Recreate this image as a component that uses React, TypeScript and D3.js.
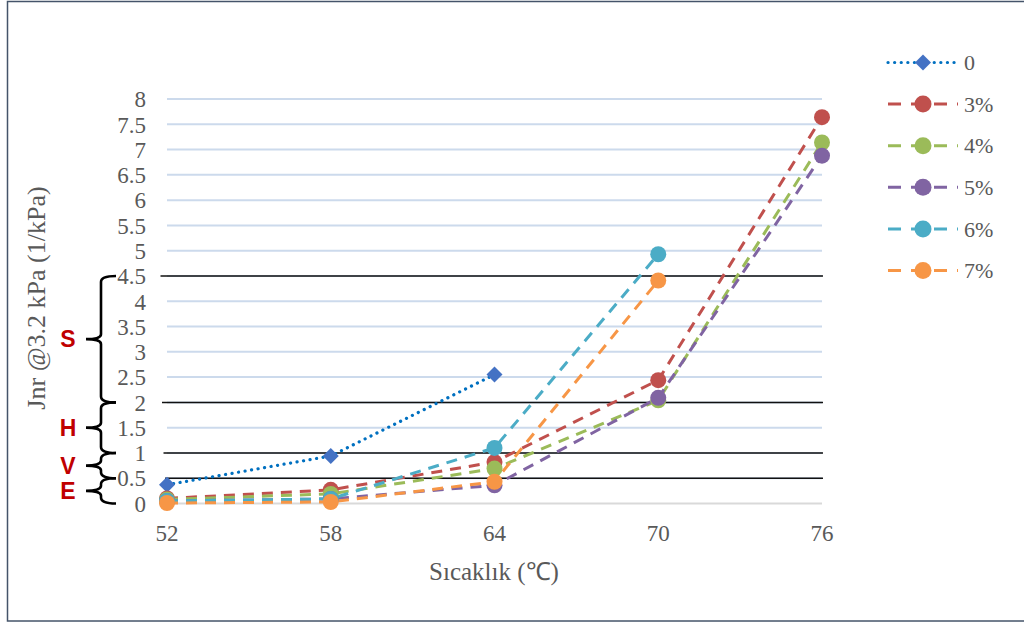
import React from "react";
import * as d3 from "d3";

const temps = [52, 58, 64, 70, 76];
const seriesNames = ["0", "3%", "4%", "5%", "6%", "7%"];
const series0 = [0.37, 0.94, 2.55];
const series3 = [0.1, 0.27, 0.82, 2.44, 7.64];
const series4 = [0.08, 0.19, 0.69, 2.04, 7.14];
const series5 = [0.05, 0.09, 0.36, 2.09, 6.88];
const series6 = [0.05, 0.09, 1.1, 4.93];
const series7 = [0.01, 0.03, 0.43, 4.41];
const allSeries = [series0, series3, series4, series5, series6, series7];
const colors = ["#4472C4", "#C0504D", "#9BBB59", "#8064A2", "#4BACC6", "#F79646"];
const yTicks = [0, 0.5, 1, 1.5, 2, 2.5, 3, 3.5, 4, 4.5, 5, 5.5, 6, 6.5, 7, 7.5, 8];
const thresholds = [0.5, 1, 2, 4.5];
const bandLabels = ["E", "V", "H", "S"];
const bandFrom = [0, 0.5, 1, 2];
const bandTo = [0.5, 1, 2, 4.5];

const W = 1024;
const H = 624;
const PLOT = { left: 167, right: 822, top: 99, bottom: 503.5 };

const serif = "'Liberation Serif', 'Times New Roman', serif";

function App() {
  const x = d3.scaleLinear().domain([52, 76]).range([PLOT.left, PLOT.right]);
  const y = d3.scaleLinear().domain([0, 8]).range([PLOT.bottom, PLOT.top]);

  const line = d3
    .line<number>()
    .x((_, i) => x(temps[i]))
    .y((d) => y(d));

  // curly brace spanning two y values, tip pointing left
  const brace = (from: number, to: number) => {
    const yt = y(to);
    const yb = y(from);
    const ym = (yt + yb) / 2;
    const xe = 116;
    const xv = 101;
    const xt = 86;
    return `M${xe},${yt} Q${xv},${yt} ${xv},${yt + 6} L${xv},${ym - 5} Q${xv},${ym} ${xt},${ym} Q${xv},${ym} ${xv},${ym + 5} L${xv},${yb - 6} Q${xv},${yb} ${xe},${yb}`;
  };

  const diamond = (cx: number, cy: number, r: number) =>
    `M${cx},${cy - r} L${cx + r},${cy} L${cx},${cy + r} L${cx - r},${cy} Z`;

  return (
    <svg
      width={W}
      height={H}
      style={{ position: "absolute", left: 0, top: 0, background: "#fff" }}
    >
      <rect x={7.5} y={1.5} width={1040} height={619.5} fill="#fff" stroke="#44546A" strokeWidth={1.5} />

      {/* gridlines */}
      {yTicks.map((t) => (
        <line
          key={"g" + t}
          x1={PLOT.left}
          x2={PLOT.right}
          y1={y(t)}
          y2={y(t)}
          stroke={t === 0 ? "#D9D9D9" : "#CCDAEC"}
          strokeWidth={2}
        />
      ))}

      {/* threshold lines */}
      {thresholds.map((t, i) => (
        <line
          key={"t" + t}
          x1={165 - i * 1.5}
          x2={823}
          y1={y(t)}
          y2={y(t)}
          stroke="#111"
          strokeWidth={1.5}
        />
      ))}

      {/* y tick labels */}
      {yTicks.map((t) => (
        <text
          key={"yl" + t}
          x={146}
          y={y(t)}
          dy="0.36em"
          textAnchor="end"
          fontFamily={serif}
          fontSize={23}
          fill="#595959"
        >
          {t}
        </text>
      ))}

      {/* x tick labels */}
      {temps.map((t) => (
        <text
          key={"xl" + t}
          x={x(t)}
          y={541}
          textAnchor="middle"
          fontFamily={serif}
          fontSize={23}
          fill="#595959"
        >
          {t}
        </text>
      ))}

      {/* braces */}
      {bandLabels.map((lab, i) => (
        <g key={"b" + lab}>
          <path d={brace(bandFrom[i], bandTo[i])} fill="none" stroke="#000" strokeWidth={2.6} />
          <text
            x={68}
            y={(y(bandFrom[i]) + y(bandTo[i])) / 2}
            dy="0.36em"
            textAnchor="middle"
            fontFamily="'Liberation Sans', Arial, sans-serif"
            fontWeight="bold"
            fontSize={23}
            fill="#C00000"
          >
            {lab}
          </text>
        </g>
      ))}

      {/* series lines */}
      {allSeries.map((s, i) => (
        <path
          key={"l" + i}
          d={line(s) ?? ""}
          fill="none"
          stroke={i === 0 ? "#0070C0" : colors[i]}
          strokeWidth={i === 0 ? 3.2 : 3}
          strokeDasharray={i === 0 ? "0.1,6.5" : "11,8"}
          strokeLinecap={i === 0 ? "round" : "butt"}
        />
      ))}

      {/* markers */}
      {allSeries.map((s, i) =>
        s.map((v, j) =>
          i === 0 ? (
            <path key={"m" + i + j} d={diamond(x(temps[j]), y(v), 8)} fill={colors[0]} />
          ) : (
            <circle key={"m" + i + j} cx={x(temps[j])} cy={y(v)} r={8} fill={colors[i]} />
          )
        )
      )}

      {/* axis titles */}
      <text
        x={494}
        y={580}
        textAnchor="middle"
        fontFamily={serif}
        fontSize={25}
        fill="#595959"
      >
        Sıcaklık (℃)
      </text>
      <text
        transform={`translate(45,298) rotate(-90)`}
        textAnchor="middle"
        fontFamily={serif}
        fontSize={26}
        fill="#595959"
      >
        Jnr @3.2 kPa (1/kPa)
      </text>

      {/* legend */}
      {seriesNames.map((name, i) => {
        const ly = 62.5 + i * 41.6;
        return (
          <g key={"lg" + name}>
            <line
              x1={888}
              x2={958}
              y1={ly}
              y2={ly}
              stroke={i === 0 ? "#0070C0" : colors[i]}
              strokeWidth={i === 0 ? 3.2 : 3}
              strokeDasharray={i === 0 ? "0.1,6.5" : "13,10"}
              strokeLinecap={i === 0 ? "round" : "butt"}
            />
            {i === 0 ? (
              <path d={diamond(923, ly, 8)} fill={colors[0]} />
            ) : (
              <circle cx={923} cy={ly} r={8.5} fill={colors[i]} />
            )}
            <text
              x={964}
              y={ly}
              dy="0.35em"
              fontFamily={serif}
              fontSize={22}
              fill="#595959"
            >
              {name}
            </text>
          </g>
        );
      })}
    </svg>
  );
}

export default App;
